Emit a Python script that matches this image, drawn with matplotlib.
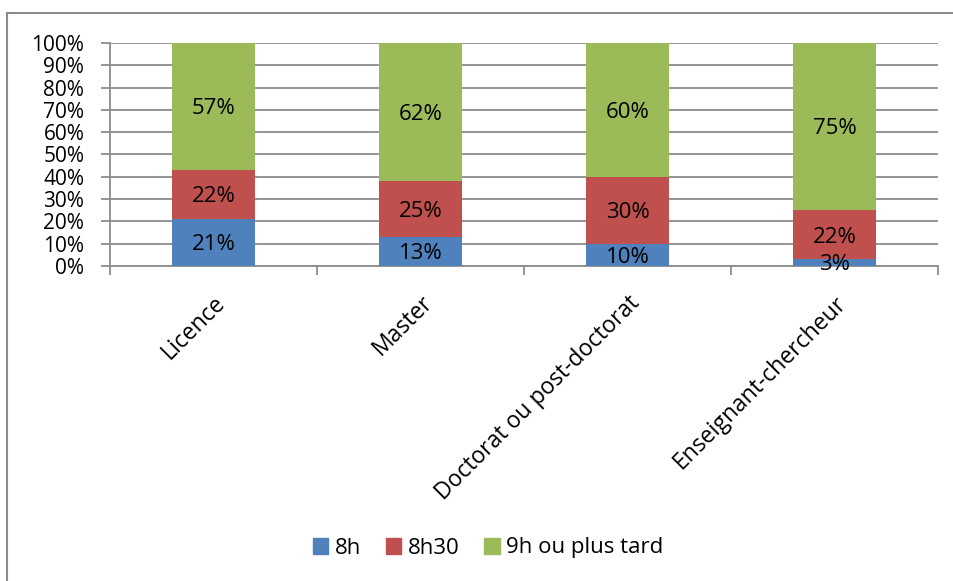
import numpy as np
import matplotlib.pyplot as plt
from matplotlib.lines import Line2D

plt.rcParams['font.family'] = ['Open Sans', 'DejaVu Sans']

# data
categories = ['Licence', 'Master', 'Doctorat ou post-doctorat', 'Enseignant-chercheur']
series = ['8h', '8h30', '9h ou plus tard']
v_8h = [21, 13, 10, 3]
v_8h30 = [22, 25, 30, 22]
v_9h = [57, 62, 60, 75]
colors = ['#4f81bd', '#c0504d', '#9bbb59']

fig = plt.figure(figsize=(9.54, 5.81), dpi=100)
ax = fig.add_axes([110 / 954, 1 - 266 / 581, 828 / 954, 223 / 581])

x = np.arange(len(categories))
bottom = np.zeros(len(categories))
for vals, col in zip([v_8h, v_8h30, v_9h], colors):
    vals = np.array(vals, dtype=float)
    ax.bar(x, vals, width=0.40, bottom=bottom, color=col, zorder=3)
    for xi, b, v in zip(x, bottom, vals):
        ax.text(xi, b + v / 2 - 1, '%d%%' % v, ha='center', va='center',
                fontsize=16, color='black', zorder=4)
    bottom += vals

ax.set_xlim(-0.5, len(categories) - 0.5)
ax.set_ylim(0, 100)
ax.set_yticks(np.arange(0, 101, 10))
ax.set_yticklabels(['%d%%' % t for t in range(0, 101, 10)], fontsize=15)
ax.yaxis.grid(True, color='#8c8c8c', linewidth=1.3, zorder=0)
ax.tick_params(axis='y', length=6.5, width=1.3, color='#8c8c8c', pad=12)

ax.set_xticks(x)
ax.set_xticklabels(categories, rotation=45, ha='right', rotation_mode='anchor', fontsize=16.5)
ax.set_xticks(np.arange(-0.5, len(categories)), minor=True)
ax.tick_params(axis='x', which='major', length=0, pad=18)
ax.tick_params(axis='x', which='minor', length=6.5, width=1.3, color='#8c8c8c')

for s in ['top', 'right']:
    ax.spines[s].set_visible(False)
for s in ['left', 'bottom']:
    ax.spines[s].set_color('#8c8c8c')
    ax.spines[s].set_linewidth(1.3)

handles = [plt.Rectangle((0, 0), 1, 1, color=c) for c in colors]
fig.legend(handles, series, loc='center', bbox_to_anchor=(488 / 954, 1 - 548 / 581),
           ncol=3, frameon=False, fontsize=16, handlelength=0.7, handleheight=0.7,
           columnspacing=1.1, handletextpad=0.3)

# outer frame (left and top only visible)
fig.add_artist(Line2D([7 / 954, 7 / 954], [0, 1 - 13 / 581], color='#8c8c8c', linewidth=1.5,
                      transform=fig.transFigure))
fig.add_artist(Line2D([7 / 954, 1], [1 - 13 / 581, 1 - 13 / 581], color='#8c8c8c', linewidth=1.5,
                      transform=fig.transFigure))

fig.savefig('out.png', dpi=100)
